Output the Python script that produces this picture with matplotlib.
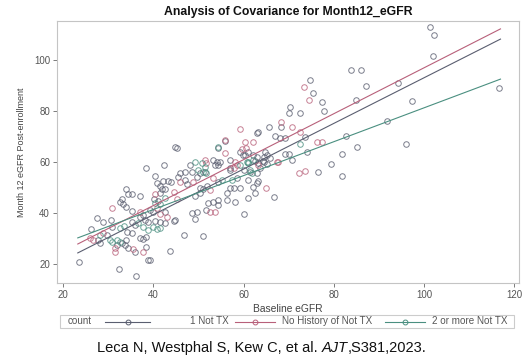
import matplotlib
matplotlib.use("Agg")
import matplotlib.pyplot as plt
from matplotlib.patches import Rectangle

plt.rcParams['font.family'] = ['Liberation Sans', 'DejaVu Sans']

# ---------------- data ----------------
title = "Analysis of Covariance for Month12_eGFR"
xlabel = "Baseline eGFR"
ylabel = "Month 12 eGFR Post-enrollment"
legend_title = "count"
group_names = ["1 Not TX", "No History of Not TX", "2 or more Not TX"]
x_ticks = [20, 40, 60, 80, 100, 120]
y_ticks = [20, 40, 60, 80, 100]

# group "1 Not TX"
g1_x = [62.9, 44.8, 101.3, 102.2, 102.0, 116.6, 83.7, 86.1, 87.2, 74.7, 75.4, 77.3, 84.8, 97.4, 94.1,
        70.4, 70.0, 72.5, 77.8, 68.2, 65.6, 67.0, 68.0, 69.2, 73.7, 82.6, 91.7, 85.2, 95.9, 81.7,
        79.3, 76.5, 81.9, 66.7, 70.0, 74.1, 65.2, 70.8, 64.5, 64.5, 23.5, 32.4, 36.3, 39.3, 43.7,
        46.8, 51.1, 27.5, 28.9, 30.6, 34.0, 34.5, 35.2, 37.1, 33.4, 34.0, 35.2, 38.5, 40.4, 42.5,
        42.2, 43.3, 43.9, 45.6, 40.8, 41.5, 41.9, 42.6, 41.4, 40.2, 41.1, 39.3, 40.0, 42.6, 38.2,
        38.9, 40.4, 41.5, 42.6, 44.5, 44.8, 37.1, 37.8, 38.5, 38.5, 38.9, 36.0, 34.5, 33.7, 33.0,
        34.0, 31.9, 34.1, 35.2, 30.9, 27.8, 28.2, 29.7, 35.2, 36.0, 37.1, 37.8, 33.0, 32.6, 49.3,
        48.5, 49.6, 51.8, 52.2, 53.3, 54.4, 54.4, 56.3, 58.1, 60.0, 61.1, 49.3, 50.4, 50.4, 51.1,
        52.0, 47.4, 49.6, 47.1, 50.4, 51.5, 54.4, 53.7, 54.8, 57.0, 58.6, 57.0, 57.8, 59.2, 56.3,
        62.2, 62.9, 62.6, 60.0, 61.5, 62.9, 63.7, 59.2, 60.4, 45.2, 55.9, 54.4, 53.3, 54.1, 54.4,
        48.2, 48.5, 57.0, 59.8, 60.9, 62.2, 62.9, 62.6, 63.3, 63.3, 61.1, 57.0, 64.8, 65.2, 65.9,
        64.3, 69.2, 45.9, 47.1, 63.3, 26.3]
g1_y = [71.5, 66.0, 113.1, 109.8, 101.6, 88.9, 96.1, 96.1, 89.8, 92.2, 87.2, 83.6, 84.3, 84.0, 91.1,
        81.4, 79.1, 79.1, 80.0, 73.8, 73.6, 70.2, 69.5, 69.2, 69.9, 70.2, 76.2, 66.0, 67.1, 63.1,
        59.2, 56.2, 54.3, 46.1, 63.1, 64.0, 59.2, 60.8, 62.1, 60.1, 20.7, 17.9, 15.3, 21.6, 25.2,
        31.5, 31.0, 38.2, 36.6, 37.3, 49.3, 47.5, 47.5, 46.7, 43.4, 42.2, 40.9, 57.5, 54.6, 58.8,
        52.7, 52.7, 52.3, 54.2, 51.6, 50.6, 49.3, 49.3, 47.7, 45.4, 44.7, 41.2, 40.5, 40.5, 37.3,
        36.6, 37.0, 36.6, 36.0, 37.0, 37.3, 30.1, 29.7, 30.5, 26.8, 21.6, 24.8, 26.2, 27.5, 28.1,
        29.4, 27.5, 32.7, 32.0, 34.6, 29.4, 28.1, 31.4, 36.6, 35.3, 38.5, 39.2, 45.4, 44.4, 37.6,
        39.9, 40.5, 41.2, 43.8, 44.4, 43.1, 45.1, 45.1, 44.4, 39.6, 46.0, 46.7, 47.7, 49.7, 49.3,
        50.6, 51.3, 54.2, 52.9, 55.6, 56.2, 52.3, 58.8, 60.1, 56.9, 53.6, 49.7, 49.7, 49.7, 47.7,
        50.3, 51.6, 47.7, 56.9, 56.2, 55.6, 57.5, 64.0, 62.7, 65.6, 68.2, 65.6, 60.8, 59.9, 58.8,
        58.8, 56.2, 60.8, 62.7, 63.8, 62.7, 62.1, 60.4, 59.5, 52.5, 52.9, 57.5, 64.0, 62.7, 61.5,
        60.4, 63.0, 55.6, 56.2, 71.6, 33.5]

# group "No History of Not TX"
g2_x = [59.2, 55.9, 60.4, 62.2, 73.4, 74.5, 68.2, 70.8, 72.6, 76.3, 77.3, 72.3, 73.6, 64.9, 67.4,
        30.8, 46.0, 41.5, 31.5, 31.5, 26.0, 26.7, 52.6, 53.7, 52.6, 55.9, 51.5, 51.8, 59.6, 60.6,
        58.5, 58.1, 67.7, 37.1, 43.0, 40.8, 35.6, 45.2, 48.9, 53.3, 57.8, 63.3, 28.9, 40.4, 44.5,
        37.8]
g2_y = [72.8, 68.6, 68.0, 68.0, 89.5, 84.3, 75.8, 73.8, 71.9, 68.0, 68.0, 55.8, 56.6, 49.9, 60.1,
        41.8, 52.0, 39.6, 26.2, 24.8, 30.3, 29.4, 40.5, 40.5, 49.0, 63.4, 60.8, 59.5, 65.0, 65.4,
        58.8, 60.1, 60.1, 40.5, 38.5, 41.8, 25.8, 45.4, 52.3, 53.6, 57.5, 58.8, 32.0, 47.3, 48.4,
        24.8]

# group "2 or more Not TX"
g3_x = [54.4, 72.6, 40.4, 41.5, 37.8, 38.9, 40.0, 31.9, 32.6, 33.5, 32.6, 30.4, 30.8, 50.8, 51.5,
        60.7, 61.1, 62.2, 49.3, 50.0, 51.1, 51.8, 61.1, 61.5, 61.8, 40.8, 41.5, 28.2, 36.7, 42.6,
        55.2, 57.4, 59.2]
g3_y = [66.0, 67.1, 44.0, 43.4, 34.4, 33.3, 34.4, 29.4, 28.7, 34.9, 34.0, 29.4, 28.4, 59.5, 58.2,
        60.1, 59.5, 60.8, 60.1, 56.9, 56.2, 55.6, 60.1, 56.9, 55.6, 33.6, 34.0, 31.4, 36.2, 45.8,
        52.9, 52.9, 58.8]

# fitted ANCOVA lines (end points)
fit_x = [23.3, 116.9]
g1_fit_y = [24.3, 108.2]
g2_fit_y = [27.8, 112.2]
g3_fit_y = [30.2, 92.5]

colors = ['#5a5e70', '#b8607a', '#4a8f80']

# ---------------- figure ----------------
W, H = 524, 364
fig = plt.figure(figsize=(W / 100, H / 100), dpi=100)
ax = fig.add_axes([57 / W, 1 - 283 / H, (519 - 57) / W, (283 - 21) / H])

groups = [(g1_x, g1_y, g1_fit_y), (g2_x, g2_y, g2_fit_y), (g3_x, g3_y, g3_fit_y)]
for (gx, gy, fy), c in zip(groups, colors):
    ax.plot(gx, gy, linestyle='none', marker='o', markersize=4.0, markerfacecolor='none',
            markeredgecolor=c, markeredgewidth=0.7, alpha=0.8)
for (gx, gy, fy), c in zip(groups, colors):
    ax.plot(fit_x, fy, color=c, linewidth=0.8)

ax.set_xlim(18.7, 121.0)
ax.set_ylim(12.5, 115.3)
ax.set_xticks(x_ticks)
ax.set_yticks(y_ticks)
ax.tick_params(axis='both', labelsize=7, colors='#666666', length=3, width=0.6,
               labelcolor='#555555', pad=2)
for s in ax.spines.values():
    s.set_color('#c4c4c4')
    s.set_linewidth(0.8)
ax.set_xlabel(xlabel, fontsize=7.4, color='#444444', labelpad=3)
ax.set_ylabel(ylabel, fontsize=6.5, color='#444444', labelpad=6)
ax.set_title(title, fontsize=8.8, fontweight='bold', color='#111111', pad=4)

# overlay for legend and caption (figure pixel coordinates)
ov = fig.add_axes([0, 0, 1, 1], facecolor='none')
ov.set_xlim(0, W)
ov.set_ylim(H, 0)
ov.axis('off')

ov.add_patch(Rectangle((60, 315), 454, 13, fill=False, edgecolor='#cccccc', linewidth=0.8))
ly = 321.5
ov.text(68, ly, legend_title, fontsize=7.1, color='#555555', va='center', ha='left')
sym_x = [(105, 150), (235, 275), (385, 425)]
lab_x = [190, 282, 432]
for (x0, x1), c in zip(sym_x, colors):
    ov.plot([x0, x1], [ly, ly], color=c, linewidth=0.8)
    ov.plot([(x0 + x1) / 2], [ly], marker='o', markersize=3.5, markerfacecolor='none',
            markeredgecolor=c, markeredgewidth=0.7)
for lx, name in zip(lab_x, group_names):
    ov.text(lx, ly, name, fontsize=7.1, color='#555555', va='center', ha='left')

# caption with italic journal name
parts = [("Leca N, Westphal S, Kew C, et al. ", 'normal'), ("AJT", 'italic'), (",S381,2023.", 'normal')]
renderer = fig.canvas.get_renderer()
texts = []
for s, st in parts:
    t = ov.text(0, 348, s, fontsize=10.5, style=st, color='#111111', va='center', ha='left')
    texts.append(t)
widths = [t.get_window_extent(renderer).width for t in texts]
x = W / 2 - sum(widths) / 2
for t, w in zip(texts, widths):
    t.set_x(x)
    x += w

fig.savefig("out.png", dpi=100)
